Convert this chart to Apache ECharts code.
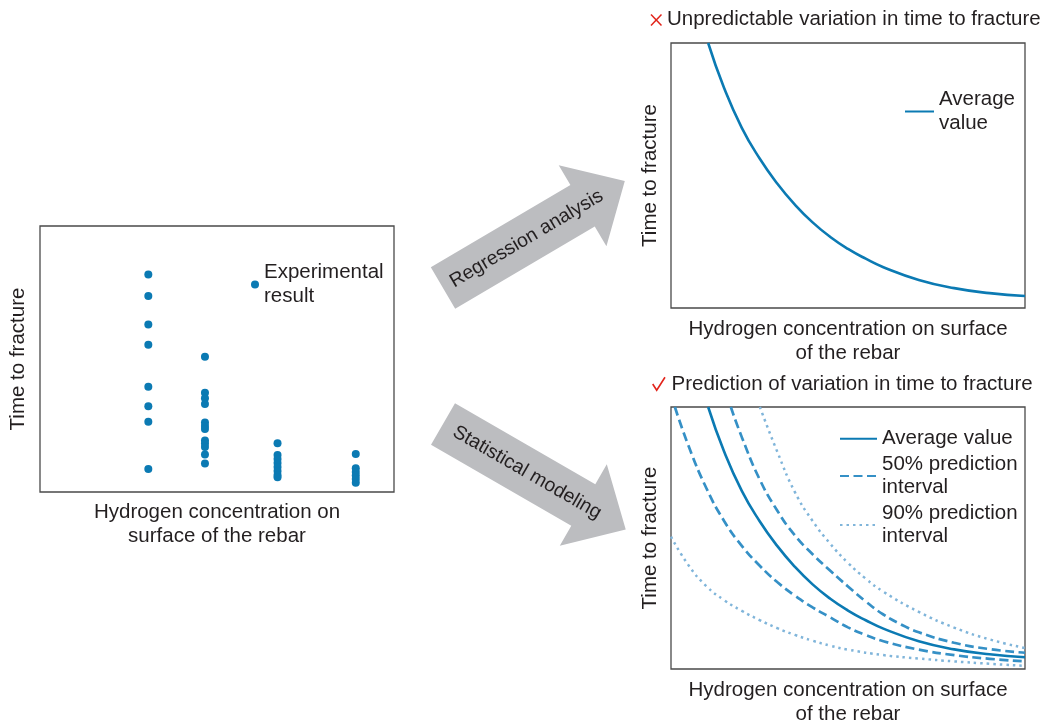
<!DOCTYPE html>
<html><head><meta charset="utf-8">
<script src="https://cdn.jsdelivr.net/npm/echarts@6/dist/echarts.min.js"></script>
<style>html,body{margin:0;padding:0;background:#fff}#c{width:1050px;height:727px}</style>
</head><body><div id="c"></div>
<script>
// ---------- data ----------
const scatterX = [30.6, 46.6, 67.1, 89.2];
const scatterCol1 = [81.8, 73.7, 63.0, 55.4, 39.6, 32.2, 26.4, 8.6];
const scatterCol2 = [50.8, 37.3, 35.2, 33.1, 26.1, 24.8, 23.7, 19.4, 18.2, 16.9, 14.1, 10.7];
const scatterCol3 = [18.3, 13.9, 12.4, 10.9, 9.4, 7.9, 6.4, 5.5];
const scatterCol4 = [14.3, 8.9, 7.5, 6.2, 4.9, 3.5];

const avgX = [10.5, 15, 20, 25, 30, 35, 40, 45, 50, 55, 60, 70, 80, 90, 100];
const avgY = [100, 83.0, 68.0, 56.5, 47.0, 39.0, 32.3, 26.8, 22.3, 18.6, 15.4, 10.6, 7.5, 5.6, 4.5];

const up50X = [16.9, 20, 25, 30, 35, 40, 45, 50, 55, 60, 65, 70, 80, 90, 100];
const up50Y = [100, 88.5, 72.5, 60.5, 51.0, 43.8, 37.5, 31.5, 25.8, 20.8, 17.0, 14.0, 10.0, 7.6, 6.2];

const lo50X = [1.1, 5, 10, 15, 20, 25, 30, 35, 40, 45, 50, 55, 60, 70, 80, 90, 100];
const lo50Y = [100, 85.0, 69.0, 56.5, 47.0, 39.5, 33.2, 28.0, 23.5, 19.7, 15.9, 13.0, 10.6, 7.4, 5.3, 3.9, 2.9];

const up90X = [25.1, 30, 35, 40, 45, 50, 55, 60, 70, 80, 90, 100];
const up90Y = [100, 83.0, 67.5, 56.5, 47.8, 40.5, 34.5, 29.5, 21.8, 15.8, 11.3, 8.0];

const lo90X = [0, 5, 10, 15, 20, 25, 30, 35, 40, 45, 50, 60, 70, 80, 90, 100];
const lo90Y = [50.5, 39.5, 31.6, 26.3, 22.2, 18.7, 15.6, 13.0, 10.8, 8.9, 7.4, 5.3, 4.0, 2.9, 2.0, 1.2];

const yTitle = 'Time to fracture';
const xTitleLeft = 'Hydrogen concentration on\nsurface of the rebar';
const xTitleRight = 'Hydrogen concentration on surface\nof the rebar';
const titleTop = 'Unpredictable variation in time to fracture';
const titleBottom = 'Prediction of variation in time to fracture';
const arrowTop = 'Regression analysis';
const arrowBottom = 'Statistical modeling';

// ---------- styles ----------
const FONT = '"Liberation Sans", Arial, Helvetica, sans-serif';
const TXT = '#231f20';
const BLUE = '#0b7ab3';
const DASH = '#3590c6';
const DOT = '#80b5da';
const RED = '#e2231a';
const GRAY = '#bcbdc0';
const FS = 20.5;

const pairs = (xs, ys) => xs.map((x, i) => [x, ys[i]]);
const scatterData = [];
[scatterCol1, scatterCol2, scatterCol3, scatterCol4].forEach((col, i) => {
  col.forEach(v => scatterData.push([scatterX[i], v]));
});

function axisPair(i, xName, gapX, gapY) {
  const nts = { fontSize: FS, lineHeight: 24, color: TXT, fontFamily: FONT };
  return {
    x: { type: 'value', gridIndex: i, min: 0, max: 100, name: xName, nameLocation: 'middle', nameGap: gapX,
         nameTextStyle: nts, axisLine: { show: false }, axisTick: { show: false }, axisLabel: { show: false }, splitLine: { show: false } },
    y: { type: 'value', gridIndex: i, min: 0, max: 100, name: yTitle, nameLocation: 'middle', nameGap: gapY, nameRotate: 90,
         nameTextStyle: nts, axisLine: { show: false }, axisTick: { show: false }, axisLabel: { show: false }, splitLine: { show: false } }
  };
}
const a0 = axisPair(0, xTitleLeft, 8, 10);
const a1 = axisPair(1, xTitleRight, 9, 9);
const a2 = axisPair(2, xTitleRight, 9, 9);

const gridStyle = { show: true, borderColor: '#4a4a4a', borderWidth: 1.3, backgroundColor: 'transparent' };
const legendText = { fontSize: FS, lineHeight: 23.5, color: TXT, fontFamily: FONT };

function arrow(x, y, deg, label) {
  return {
    type: 'group', x: x, y: y, rotation: deg * Math.PI / 180,
    children: [
      { type: 'polygon', shape: { points: [[0, -24], [162, -24], [162, -47], [211, 0], [162, 47], [162, 24], [0, 24]] },
        style: { fill: GRAY } },
      { type: 'text', x: 97, y: 0,
        style: { text: label, fill: TXT, font: '19.5px ' + FONT, textAlign: 'center', align: 'center',
                 textVerticalAlign: 'middle', verticalAlign: 'middle' } }
    ]
  };
}

const lineSeries = (name, gi, xs, ys, color, width, type, z) => ({
  type: 'line', name: name, xAxisIndex: gi, yAxisIndex: gi, symbol: 'none', smooth: 0.5,
  lineStyle: { color: color, width: width, type: type }, itemStyle: { color: color }, data: pairs(xs, ys), z: z
});

const option = {
  animation: false,
  backgroundColor: '#fff',
  textStyle: { fontFamily: FONT },
  grid: [
    Object.assign({ left: 40, top: 226, width: 354, height: 266 }, gridStyle),
    Object.assign({ left: 671, top: 43, width: 354, height: 265 }, gridStyle),
    Object.assign({ left: 671, top: 407, width: 354, height: 265 }, gridStyle)
  ],
  xAxis: [a0.x, a1.x, a2.x],
  yAxis: [a0.y, a1.y, a2.y],
  legend: [
    { data: ['Experimental result'], left: 251, top: 261, padding: 0, orient: 'vertical', selectedMode: false,
      icon: 'circle', itemWidth: 8, itemHeight: 8, formatter: () => 'Experimental\nresult', textStyle: legendText },
    { data: ['Average value'], left: 904, top: 88, padding: 0, orient: 'vertical', selectedMode: false,
      itemWidth: 29, itemHeight: 14, itemStyle: { opacity: 0, borderWidth: 0 },
      formatter: () => 'Average\nvalue', textStyle: legendText },
    { data: ['Average value', '50% prediction interval', '90% prediction interval'], left: 839, top: 427, padding: 0,
      orient: 'vertical', itemGap: 2, selectedMode: false, itemWidth: 37, itemHeight: 14,
      itemStyle: { opacity: 0, borderWidth: 0 },
      formatter: n => n === 'Average value' ? n : n.replace(' interval', '\ninterval'), textStyle: legendText }
  ],
  series: [
    { type: 'scatter', name: 'Experimental result', xAxisIndex: 0, yAxisIndex: 0, symbolSize: 8,
      itemStyle: { color: BLUE, opacity: 1 }, data: scatterData },
    lineSeries('Average value', 1, avgX, avgY, BLUE, 2.6, 'solid', 5),
    lineSeries('90% prediction interval', 2, up90X, up90Y, DOT, 2.5, [2.5, 4], 2),
    lineSeries('90% prediction interval', 2, lo90X, lo90Y, DOT, 2.5, [2.5, 4], 2),
    lineSeries('50% prediction interval', 2, up50X, up50Y, DASH, 2.7, [9, 4.5], 3),
    lineSeries('50% prediction interval', 2, lo50X, lo50Y, DASH, 2.7, [9, 4.5], 3),
    lineSeries('Average value', 2, avgX, avgY, BLUE, 2.6, 'solid', 5)
  ],
  graphic: [
    arrow(443, 288, 30.5, arrowTop),
    arrow(443, 424, -30, arrowBottom),
    { type: 'line', shape: { x1: 651, y1: 14.5, x2: 661.5, y2: 25.5 }, style: { stroke: RED, lineWidth: 1.5 } },
    { type: 'line', shape: { x1: 651, y1: 25.5, x2: 661.5, y2: 14.5 }, style: { stroke: RED, lineWidth: 1.5 } },
    { type: 'polyline', shape: { points: [[652.7, 384], [656.7, 390.3], [665, 377.3]] }, style: { stroke: RED, lineWidth: 1.6, fill: null } },
    { type: 'text', x: 667, y: 19, style: { text: titleTop, fill: TXT, font: FS + 'px ' + FONT, textVerticalAlign: 'middle', verticalAlign: 'middle' } },
    { type: 'text', x: 671.5, y: 384.5, style: { text: titleBottom, fill: TXT, font: FS + 'px ' + FONT, textVerticalAlign: 'middle', verticalAlign: 'middle' } }
  ]
};

const chart = echarts.init(document.getElementById('c'), null, { renderer: 'canvas' });
chart.setOption(option);
</script>
</body></html>
